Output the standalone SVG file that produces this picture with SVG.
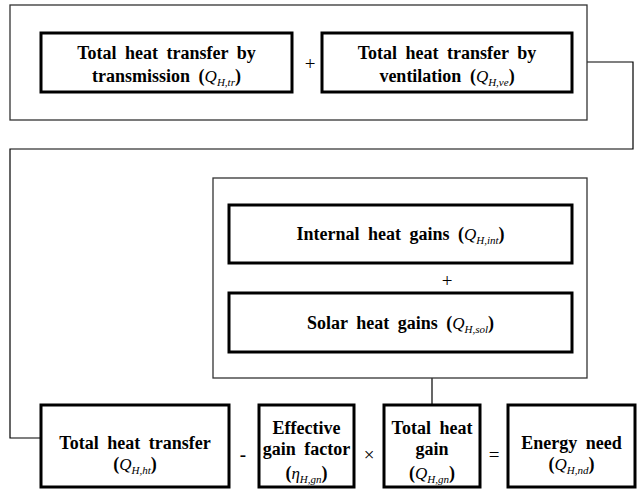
<svg xmlns="http://www.w3.org/2000/svg" width="641" height="489" viewBox="0 0 641 489">
<style>
.outer{fill:#fff;stroke:#333;stroke-width:1.3}
.box{fill:#fff;stroke:#000;stroke-width:3}
text{font-family:'Liberation Serif','Times New Roman',serif}
.t{font-weight:bold;font-size:18px;fill:#000;text-anchor:middle;word-spacing:4px}
.m{font-style:italic;font-weight:normal;font-size:17px}
.s{font-style:italic;font-weight:normal;font-size:11px}
.op{font-size:19px;fill:#000;text-anchor:middle}
.con{fill:none;stroke:#000;stroke-width:1.2}
</style>
<rect width="641" height="489" fill="#fff"/>
<g id="connectors">
<polyline class="con" points="587,62 633,62 633,149 10,149 10,438 41,438"/>
<line class="con" x1="432" y1="378" x2="432" y2="405"/>
</g>
<g id="group-top">
<rect class="outer" x="10" y="5" width="577" height="115"/>
</g>
<g id="group-gains">
<rect class="outer" x="213" y="178" width="374" height="200"/>
</g>
<g id="transmission">
<rect class="box" x="41" y="33" width="251" height="59"/>
<text class="t" x="166.5" y="59" font-family="Liberation Serif, serif">Total heat transfer by</text>
<text class="t" x="166.5" y="82" font-family="Liberation Serif, serif">transmission (<tspan class="m">Q</tspan><tspan class="s" baseline-shift="-4">H,tr</tspan>)</text>
</g>
<g id="plus1"><text class="op" x="310" y="70" font-family="Liberation Serif, serif">+</text></g>
<g id="ventilation">
<rect class="box" x="322" y="33" width="250" height="59"/>
<text class="t" x="447" y="59" font-family="Liberation Serif, serif">Total heat transfer by</text>
<text class="t" x="447" y="82" font-family="Liberation Serif, serif">ventilation (<tspan class="m">Q</tspan><tspan class="s" baseline-shift="-4">H,ve</tspan>)</text>
</g>
<g id="internal">
<rect class="box" x="229" y="205" width="343" height="58"/>
<text class="t" x="400.5" y="240" font-family="Liberation Serif, serif">Internal heat gains (<tspan class="m">Q</tspan><tspan class="s" baseline-shift="-4">H,int</tspan>)</text>
</g>
<g id="plus2"><text class="op" x="447" y="287" font-family="Liberation Serif, serif">+</text></g>
<g id="solar">
<rect class="box" x="229" y="293" width="343" height="59"/>
<text class="t" x="400.5" y="329" font-family="Liberation Serif, serif">Solar heat gains (<tspan class="m">Q</tspan><tspan class="s" baseline-shift="-4">H,sol</tspan>)</text>
</g>
<g id="total-transfer">
<rect class="box" x="41" y="405" width="188" height="82"/>
<text class="t" x="135" y="449" font-family="Liberation Serif, serif">Total heat transfer</text>
<text class="t" x="135" y="470" font-family="Liberation Serif, serif">(<tspan class="m">Q</tspan><tspan class="s" baseline-shift="-4">H,ht</tspan>)</text>
</g>
<g id="minus"><text class="op" x="243" y="461" font-weight="bold" font-family="Liberation Serif, serif">-</text></g>
<g id="gain-factor">
<rect class="box" x="259" y="405" width="95" height="82"/>
<text class="t" x="306.5" y="434" font-family="Liberation Serif, serif" word-spacing="2">Effective</text>
<text class="t" x="306.5" y="455" font-family="Liberation Serif, serif" word-spacing="2">gain factor</text>
<text class="t" x="306.5" y="479" font-family="Liberation Serif, serif">(<tspan class="m">η</tspan><tspan class="s" baseline-shift="-4">H,gn</tspan>)</text>
</g>
<g id="times"><text class="op" x="369" y="461" font-family="Liberation Serif, serif">×</text></g>
<g id="total-gain">
<rect class="box" x="384" y="405" width="96" height="82"/>
<text class="t" x="432" y="434" font-family="Liberation Serif, serif">Total heat</text>
<text class="t" x="432" y="455" font-family="Liberation Serif, serif">gain</text>
<text class="t" x="432" y="479" font-family="Liberation Serif, serif">(<tspan class="m">Q</tspan><tspan class="s" baseline-shift="-4">H,gn</tspan>)</text>
</g>
<g id="equals"><text class="op" x="494" y="461" font-family="Liberation Serif, serif">=</text></g>
<g id="energy-need">
<rect class="box" x="508" y="405" width="127" height="82"/>
<text class="t" x="571.5" y="449" font-family="Liberation Serif, serif">Energy need</text>
<text class="t" x="571.5" y="470" font-family="Liberation Serif, serif">(<tspan class="m">Q</tspan><tspan class="s" baseline-shift="-4">H,nd</tspan>)</text>
</g>
</svg>
